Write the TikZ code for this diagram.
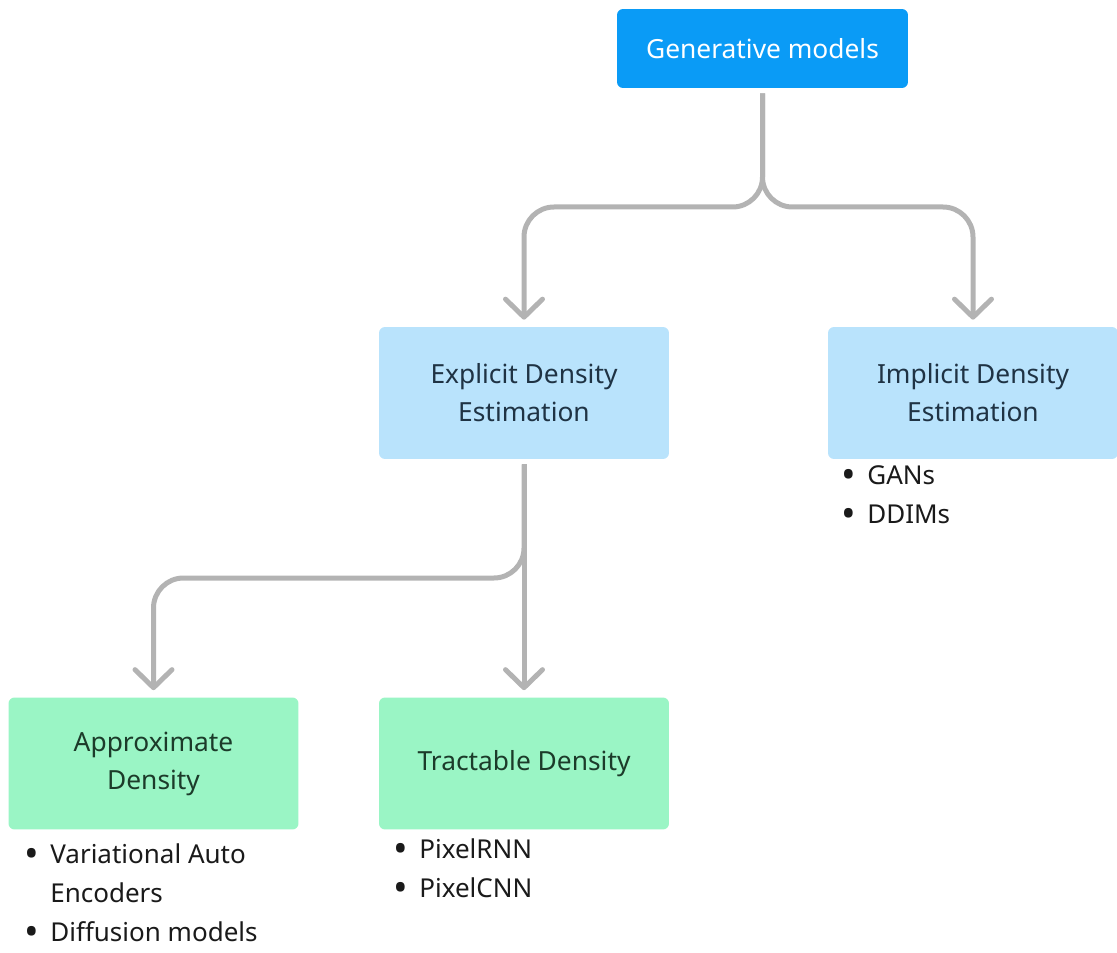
\documentclass[tikz,border=0pt]{standalone}
\usepackage{fontspec}
\setmainfont{Noto Sans}
\usetikzlibrary{arrows.meta, positioning}

\definecolor{genblue}{HTML}{0A9BF6}
\definecolor{paleblue}{HTML}{B9E3FC}
\definecolor{mint}{HTML}{9AF5C5}
\definecolor{linkgray}{HTML}{B3B3B3}
\definecolor{bluetext}{HTML}{1F3344}
\definecolor{greentext}{HTML}{1C3B2A}
\definecolor{itemtext}{HTML}{1A1A1A}

\tikzstyle{rootbox} = [rectangle, rounded corners=0.12cm, minimum width=5.82cm, minimum height=1.58cm, text centered, fill=genblue, text=white, font=\fontsize{15}{21.6}\selectfont]
\tikzstyle{familybox} = [rectangle, rounded corners=0.12cm, minimum width=5.8cm, minimum height=2.64cm, align=center, fill=paleblue, text=bluetext, font=\fontsize{15}{21.6}\selectfont]
\tikzstyle{kindbox} = [familybox, fill=mint, text=greentext]
\tikzstyle{itemlist} = [anchor=north west, inner sep=0pt, align=left, text=itemtext, font=\fontsize{14.8}{22.2}\selectfont]
\tikzstyle{link} = [draw=linkgray, line width=0.1cm, rounded corners=0.6cm, shorten <=0.1cm, shorten >=0.14cm, -{Straight Barb[length=0.36cm, width=0.74cm, round]}]

\newcommand{\bul}[1]{\makebox[0.52cm][l]{\raisebox{-0.3ex}{\scalebox{1.5}{\textbullet}}}#1}
\newcommand{\cont}[1]{\hspace*{0.52cm}#1}

\begin{document}
\begin{tikzpicture}[x=0.02cm, y=-0.02cm]

\useasboundingbox (0,0) rectangle (1117,953);

% Nodes
\node (gen) [rootbox] at (762.5,48.5) {Generative models};
\node (explicit) [familybox] at (524,393) {Explicit Density\\Estimation};
\node (implicit) [familybox] at (973,393) {Implicit Density\\Estimation};
\node (approx) [kindbox] at (153.5,763.5) {Approximate\\Density};
\node (tract) [kindbox] at (524,763.5) {Tractable Density};

% Lists under the boxes
\node (implicitlist) [itemlist] at (841,465) {\bul{GANs}\\\bul{DDIMs}};
\node (approxlist) [itemlist] at (24,843) {\bul{Variational Auto}\\\cont{Encoders}\\\bul{Diffusion models}};
\node (tractlist) [itemlist] at (393,838) {\bul{PixelRNN}\\\bul{PixelCNN}};

% Split points
\coordinate (topsplit) at (762.5,207);
\coordinate (lowsplit) at (524,578);

% Arrows
\draw [link] (gen.south) -- (topsplit) -| (explicit.north);
\draw [link] (gen.south) -- (topsplit) -| (implicit.north);
\draw [link] (explicit.south) -- (lowsplit) -| (approx.north);
\draw [link] (explicit.south) -- (tract.north);

\end{tikzpicture}
\end{document}
